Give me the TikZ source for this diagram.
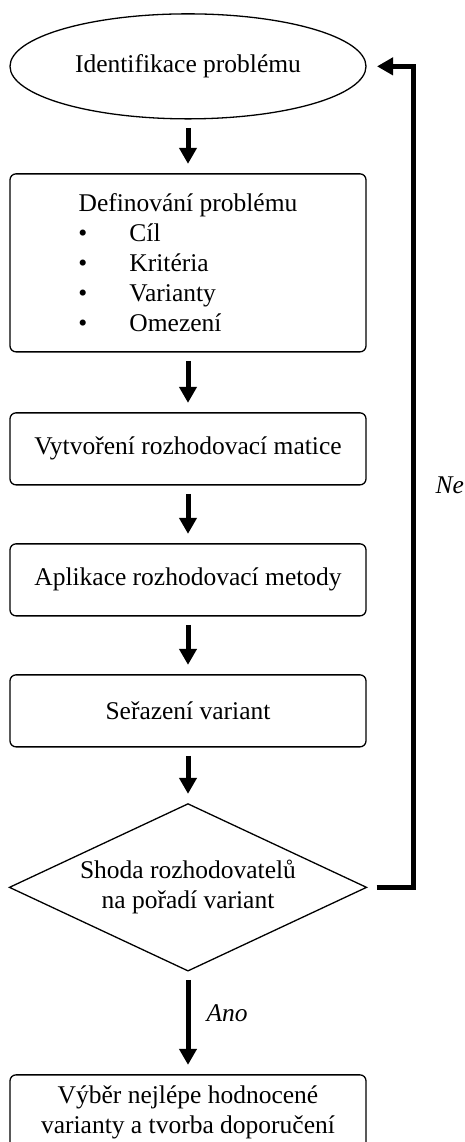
\documentclass[tikz,border=0pt]{standalone}
\usepackage{fontspec}
\setmainfont{Liberation Serif}
\usetikzlibrary{shapes,arrows.meta,positioning}
\tikzstyle{line} = [draw, line width=5pt, -{Triangle[width=17pt,length=16pt]}]

\begin{document}
\begin{tikzpicture}[
    every node/.style={font=\fontsize{25.5pt}{30pt}\selectfont},
    start/.style ={ellipse, draw=black, line width=1.3pt, outer sep=0pt,
      minimum width=356pt, minimum height=105pt, inner sep=0pt},
    block/.style ={rectangle, draw=black, line width=1.3pt, rounded corners=6pt,
      outer sep=0pt, minimum width=356pt, minimum height=72pt, align=center,
      inner sep=4pt},
    block_list/.style ={block, minimum height=178pt},
    block_last/.style ={block, minimum height=0pt, inner ysep=10.5pt},
    decision/.style ={diamond, draw=black, line width=1.3pt, align=center,
      outer sep=0pt, aspect=2.14, minimum width=357pt, minimum height=167pt,
      inner sep=0pt},
    answer/.style ={font=\fontsize{25.5pt}{30pt}\selectfont\itshape, inner sep=0pt},
    arrow/.style ={line, shorten <=9pt, shorten >=10pt}]

    \useasboundingbox (0,0) rectangle (465pt,-1142pt);

    % one column of steps, spaced with the matrix
    \matrix [anchor=north, inner sep=0pt, row sep=53.7pt] at (188pt,-13pt) {

    % Place nodes
    \node [start] (ident) {Identifikace problému}; \\
    \node [block_list] (defin) {Definování problému\\
      \makebox[219pt][l]{\makebox[51pt][l]{\textbullet}Cíl}\\
      \makebox[219pt][l]{\makebox[51pt][l]{\textbullet}Kritéria}\\
      \makebox[219pt][l]{\makebox[51pt][l]{\textbullet}Varianty}\\
      \makebox[219pt][l]{\makebox[51pt][l]{\textbullet}Omezení}}; \\[6pt]
    \node [block] (matice) {Vytvoření rozhodovací matice}; \\[4pt]
    \node [block] (metoda) {Aplikace rozhodovací metody}; \\[4pt]
    \node [block] (razeni) {Seřazení variant}; \\[2pt]
    \node [decision] (shoda) {Shoda rozhodovatelů\\na pořadí variant}; \\[49pt]
    \node [block_last] (vyber) {Výběr nejlépe hodnocené\\varianty a tvorba doporučení}; \\
};% end matrix

    \coordinate [right=47pt of shoda.east] (back);

    \begin{scope}[every path/.style=arrow]
    % paths down the column
    \path (ident) -- (defin);
    \path (defin) -- (matice);
    \path (matice) -- (metoda);
    \path (metoda) -- (razeni);
    \path (razeni) -- (shoda);
    \path (shoda) -- node [answer, pos=0.41, right=16pt] {Ano} (vyber);

    % path back to the start
    \path [shorten <=10pt, shorten >=11pt] (shoda.east) -- (back)
      |- node [answer, pos=0.245, right=19.5pt] {Ne} (ident.east);
    \end{scope}

\end{tikzpicture}
\end{document}
